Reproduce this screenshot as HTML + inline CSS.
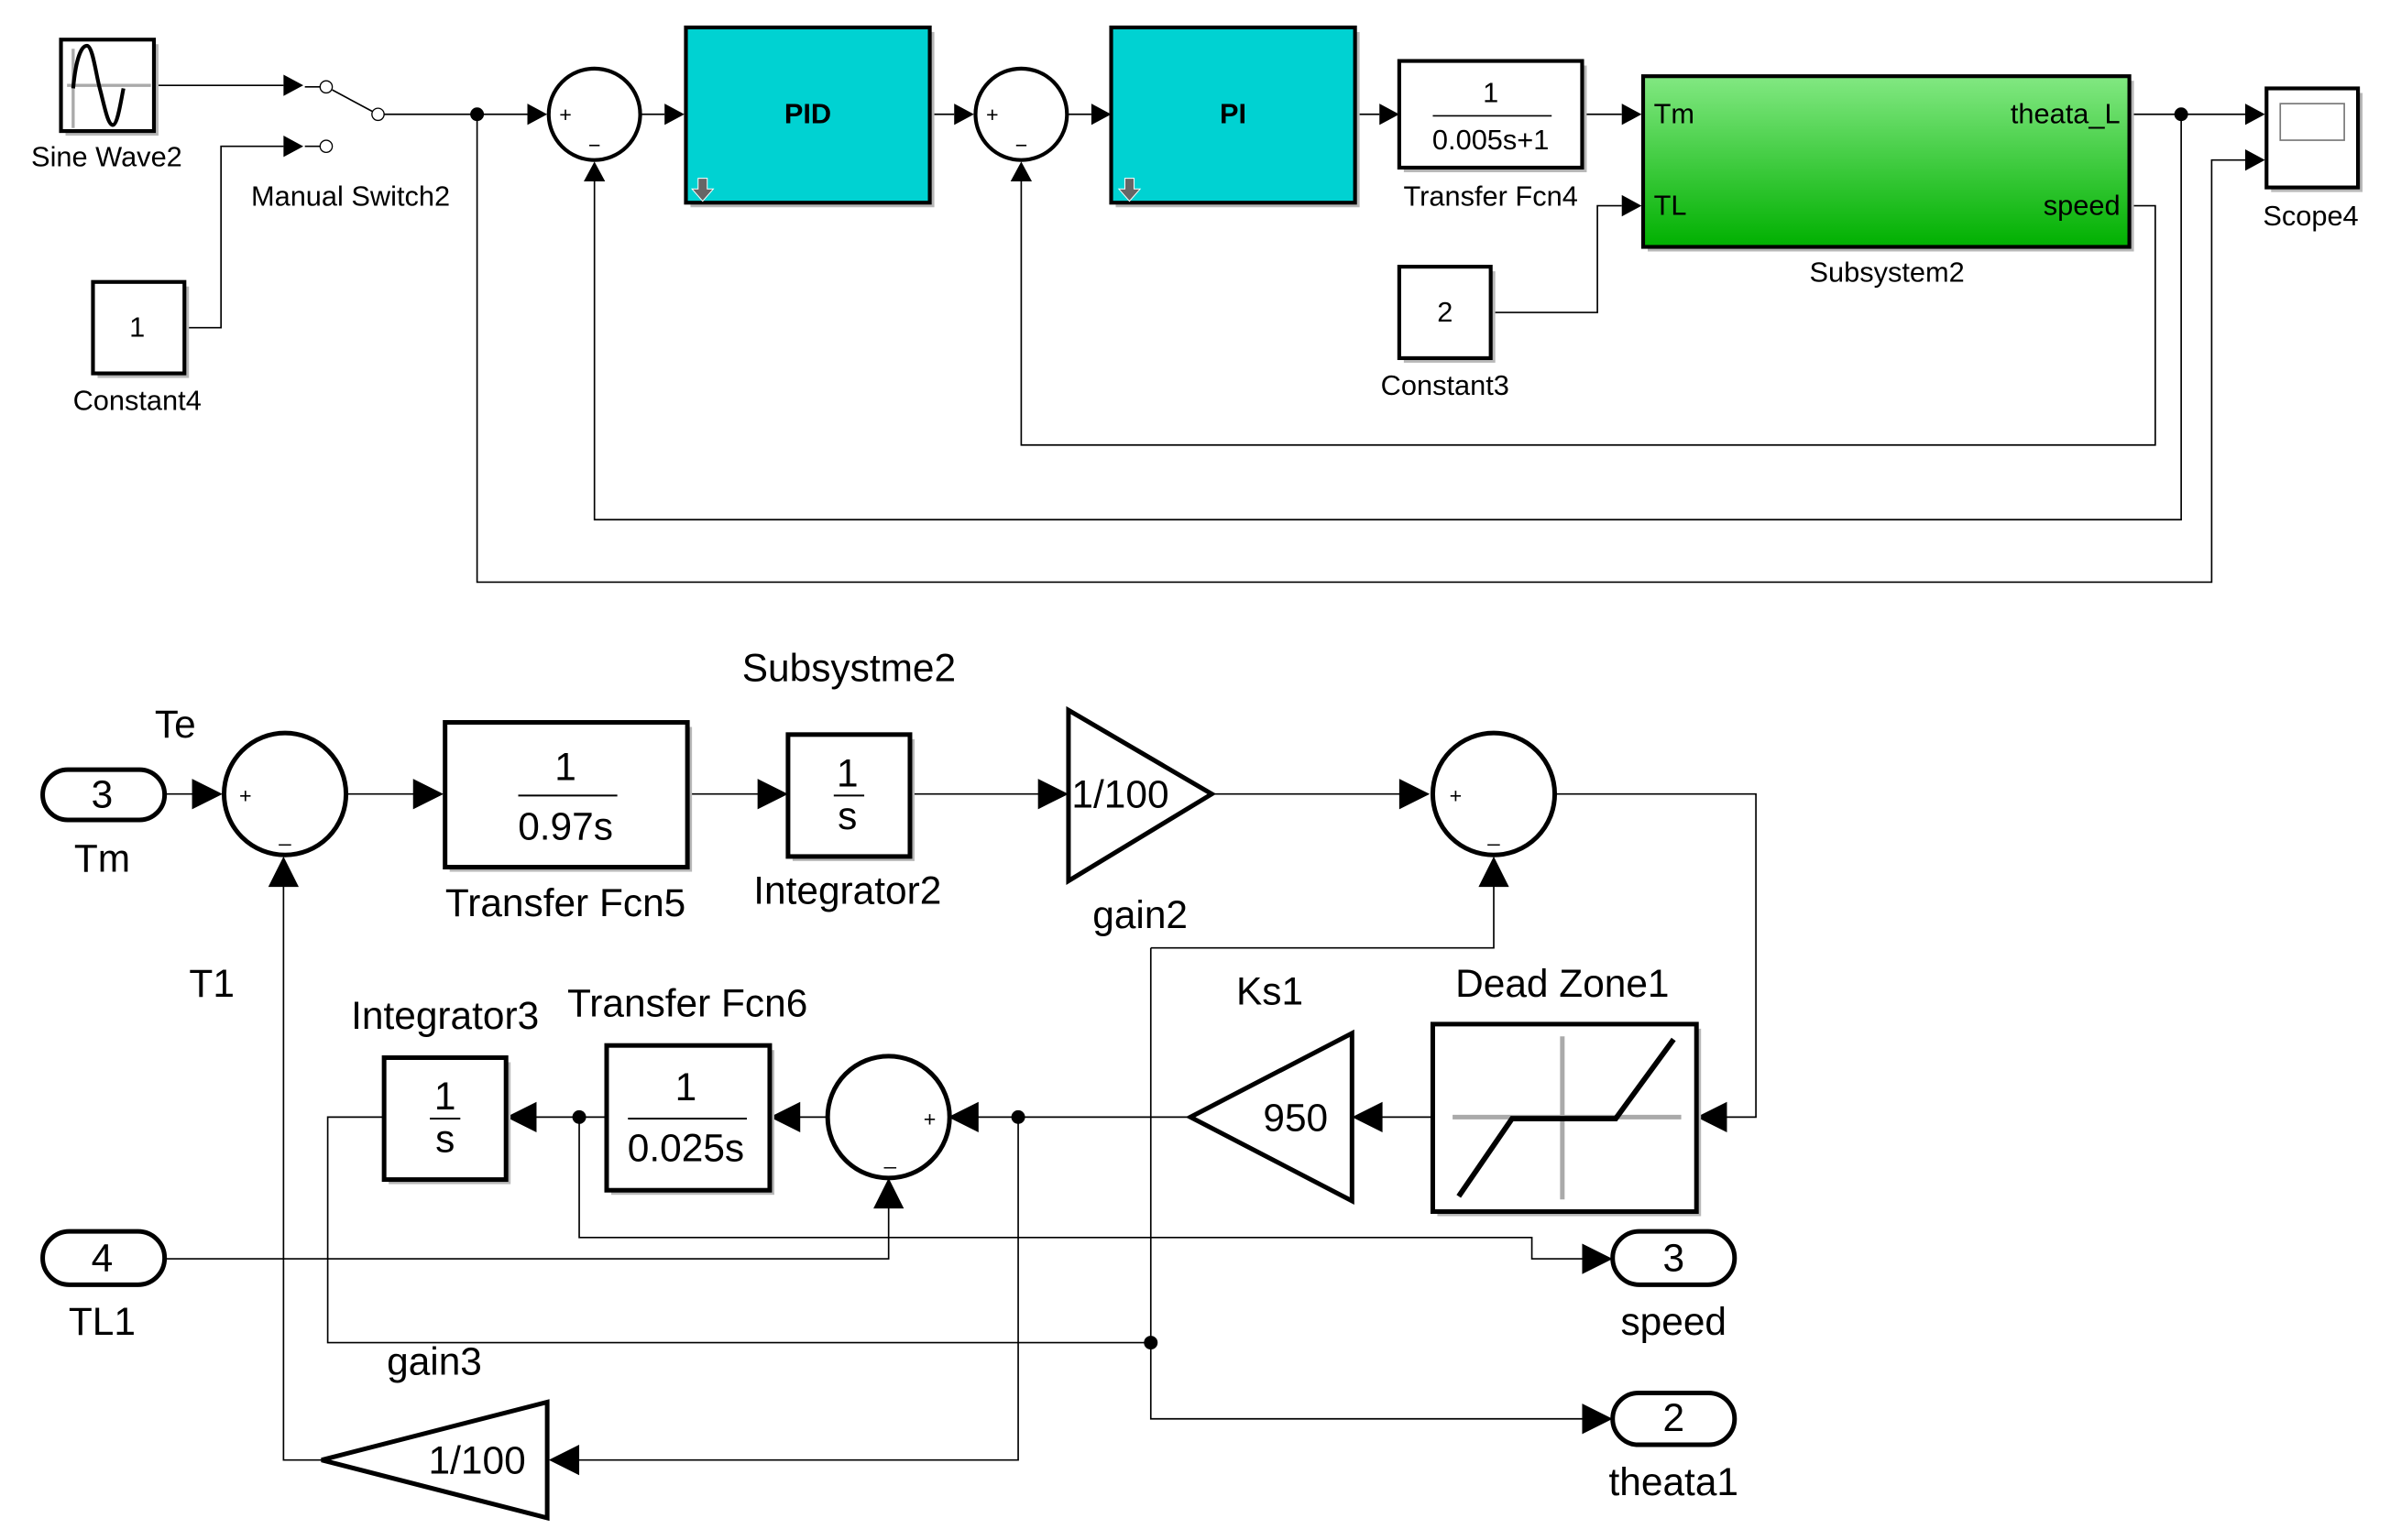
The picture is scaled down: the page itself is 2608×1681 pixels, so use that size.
<!DOCTYPE html>
<html><head><meta charset="utf-8"><style>
html,body{margin:0;padding:0;background:#fff;}
svg{display:block;}
text{font-family:"Liberation Sans",Arial,sans-serif;fill:#000;}
</style></head><body>
<svg width="2608" height="1681" viewBox="0 0 1568 1010.5" preserveAspectRatio="none" xmlns="http://www.w3.org/2000/svg">
<defs>
<linearGradient id="g" x1="0" y1="0" x2="0" y2="1"><stop offset="0" stop-color="#82e882"/><stop offset="1" stop-color="#00b000"/></linearGradient>
</defs>
<rect width="1568" height="1011" fill="#fff"/>
<g fill="none" stroke="#000" stroke-width="1">
<path d="M101 56H186"/><path d="M121 215H145V96H186"/>
<path d="M250 75H346"/><path d="M420 75H436"/><path d="M610 75H626"/><path d="M700 75H716"/><path d="M889 75H905"/>
<path d="M1038 75H1064"/><path d="M978 205H1048V135H1064"/>
<path d="M1397 75H1473"/><path d="M1397 135H1414V292H670V119"/>
<path d="M1431 75V341H390V119"/><path d="M313 75V382H1451V105H1473"/>
<path d="M200 57H210M218 59L246 74M200 96H210"/>
<path d="M108 521H132"/><path d="M227 521H277"/><path d="M451 521H503"/><path d="M597 521H687"/><path d="M795 521H924"/>
<path d="M1020 521H1152V733H1130"/><path d="M940 733H904"/><path d="M781 733H639"/>
<path d="M543 733H521"/><path d="M398 733H349"/><path d="M252 733H215V881H755"/>
<path d="M755 622H980V578"/><path d="M755 622V931H1043"/><path d="M380 733V812H1005V826H1043"/>
<path d="M108 826H583V789"/><path d="M668 733V958H376"/><path d="M211 958H186V578"/>
</g>
<g fill="#000">
<path d="M186 49L199 56L186 63Z"/><path d="M186 89L199 96L186 103Z"/>
<path d="M346 68L359 75L346 82Z"/><path d="M436 68L449 75L436 82Z"/><path d="M626 68L639 75L626 82Z"/><path d="M716 68L729 75L716 82Z"/><path d="M905 68L918 75L905 82Z"/>
<path d="M1064 68L1077 75L1064 82Z"/><path d="M1064 128L1077 135L1064 142Z"/>
<path d="M1473 68L1486 75L1473 82Z"/><path d="M1473 98L1486 105L1473 112Z"/>
<path d="M383 119L390 106L397 119Z"/><path d="M663 119L670 106L677 119Z"/>
<circle cx="313" cy="75" r="4.5"/><circle cx="1431" cy="75" r="4.5"/>
<path d="M126 511L146 521L126 531Z"/><path d="M271 511L291 521L271 531Z"/><path d="M497 511L517 521L497 531Z"/><path d="M681 511L701 521L681 531Z"/><path d="M918 511L938 521L918 531Z"/>
<path d="M1133 723L1113 733L1133 743Z"/><path d="M907 723L887 733L907 743Z"/><path d="M642 723L622 733L642 743Z"/>
<path d="M525 723L505 733L525 743Z"/><path d="M352 723L332 733L352 743Z"/><path d="M380 948L360 958L380 968Z"/>
<path d="M1038 816L1058 826L1038 836Z"/><path d="M1038 921L1058 931L1038 941Z"/>
<path d="M176 582L186 562L196 582Z"/><path d="M970 582L980 562L990 582Z"/><path d="M573 793L583 773L593 793Z"/>
<circle cx="668" cy="733" r="4.5"/><circle cx="380" cy="733" r="4.5"/><circle cx="755" cy="881" r="4.5"/>
</g>
<g fill="#fff" stroke="#000" stroke-width="0.8"><circle cx="214" cy="57" r="4"/><circle cx="214" cy="96" r="4"/><circle cx="248" cy="75" r="4"/></g>

<g fill="#b8b8b8">
<rect x="43" y="29" width="61" height="60"/><rect x="64" y="188" width="60" height="60"/>
<rect x="453" y="21" width="160" height="115"/><rect x="732" y="21" width="160" height="115"/>
<rect x="921" y="43" width="120" height="70"/><rect x="1081" y="53" width="319" height="112"/>
<rect x="921" y="178" width="60" height="60"/><rect x="1490" y="61" width="60" height="65"/>
<rect x="295" y="477" width="159" height="95"/><rect x="520" y="485" width="80" height="80"/>
<rect x="943" y="675" width="173" height="123"/><rect x="401" y="689" width="107" height="95"/><rect x="255" y="697" width="80" height="80"/>
</g>
<g stroke="#000" stroke-width="2.5">
<rect x="40" y="26" width="61" height="60" fill="#fff"/>
<rect x="61" y="185" width="60" height="60" fill="#fff"/>
<rect x="450" y="18" width="160" height="115" fill="#00d2d2"/>
<rect x="729" y="18" width="160" height="115" fill="#00d2d2"/>
<rect x="918" y="40" width="120" height="70" fill="#fff"/>
<rect x="1078" y="50" width="319" height="112" fill="url(#g)"/>
<rect x="918" y="175" width="60" height="60" fill="#fff"/>
<rect x="1487" y="58" width="60" height="65" fill="#fff"/>
<circle cx="390" cy="75" r="30" fill="#fff"/>
<circle cx="670" cy="75" r="30" fill="#fff"/>
</g>
<rect x="1496" y="68" width="42" height="24" fill="#fff" stroke="#777" stroke-width="1"/>
<path d="M44 56H99M48 32V84" stroke="#aaa" stroke-width="2" fill="none"/>
<path d="M48 56C52 20 56 26 58 30C62 40 66 80 72 82C78 84 82 72 86 60C88 52 90 40 92 34" stroke="none" fill="none"/>
<path d="M48 58C50 36 54 30 57 30C61 30 63 50 66 60C69 72 71 82 74 82C77 82 79 68 81 58" stroke="#000" stroke-width="2.5" fill="none"/>
<path d="M458 117h6v7h4l-7 8l-7-8h4z M738 117h6v7h4l-7 8l-7-8h4z" fill="#666" stroke="#fff" stroke-width="0.6"/>
<path d="M940 76H1018" stroke="#000" stroke-width="1"/>
<g font-size="18.5" text-anchor="middle">
<text x="70" y="109">Sine Wave2</text>
<text x="90" y="221">1</text>
<text x="90" y="269">Constant4</text>
<text x="230" y="135">Manual Switch2</text>
<text x="530" y="81" font-weight="bold">PID</text>
<text x="809" y="81" font-weight="bold">PI</text>
<text x="978" y="67">1</text>
<text x="978" y="98">0.005s+1</text>
<text x="978" y="135">Transfer Fcn4</text>
<text x="948" y="211">2</text>
<text x="948" y="259">Constant3</text>
<text x="1238" y="185">Subsystem2</text>
<text x="1516" y="148">Scope4</text>
<text x="1085" y="81" text-anchor="start">Tm</text>
<text x="1085" y="141" text-anchor="start">TL</text>
<text x="1391" y="81" text-anchor="end">theata_L</text>
<text x="1391" y="141" text-anchor="end">speed</text>
</g>
<g font-size="14" text-anchor="middle"><text x="371" y="80">+</text><text x="390" y="100">−</text><text x="651" y="80">+</text><text x="670" y="100">−</text></g>

<g stroke="#000" stroke-width="3" fill="#fff">
<rect x="28" y="505" width="80" height="33" rx="16.5"/>
<rect x="28" y="808" width="80" height="35" rx="17.5"/>
<rect x="1058" y="808" width="80" height="35" rx="17.5"/>
<rect x="1058" y="914" width="80" height="34" rx="17"/>
<circle cx="187" cy="521" r="40"/>
<circle cx="980" cy="521" r="40"/>
<circle cx="583" cy="733" r="40"/>
<rect x="292" y="474" width="159" height="95"/>
<rect x="517" y="482" width="80" height="80"/>
<path d="M701 466L795 521L701 578Z"/>
<rect x="940" y="672" width="173" height="123"/>
<path d="M781 733L887 678L887 788Z"/>
<rect x="398" y="686" width="107" height="95"/>
<rect x="252" y="694" width="80" height="80"/>
<path d="M211 958L359 920L359 996Z"/>
</g>
<path d="M953 733H1103M1025 680V787" stroke="#aaa" stroke-width="3" fill="none"/>
<path d="M957 785L992 734H1060L1098 682" stroke="#000" stroke-width="3.5" fill="none"/>
<g stroke="#000" stroke-width="1.2"><path d="M340 522H405"/><path d="M547 522H567"/><path d="M412 734H490"/><path d="M282 734H302"/></g>
<g font-size="25.5" text-anchor="middle">
<text x="557" y="447">Subsystme2</text>
<text x="115" y="484">Te</text>
<text x="67" y="530">3</text>
<text x="67" y="572">Tm</text>
<text x="371" y="512">1</text>
<text x="371" y="551">0.97s</text>
<text x="371" y="601">Transfer Fcn5</text>
<text x="556" y="516">1</text>
<text x="556" y="544">s</text>
<text x="556" y="593">Integrator2</text>
<text x="735" y="530">1/100</text>
<text x="748" y="609">gain2</text>
<text x="139" y="654">T1</text>
<text x="1025" y="654">Dead Zone1</text>
<text x="833" y="659">Ks1</text>
<text x="850" y="742">950</text>
<text x="451" y="667">Transfer Fcn6</text>
<text x="450" y="722">1</text>
<text x="450" y="762">0.025s</text>
<text x="292" y="675">Integrator3</text>
<text x="292" y="728">1</text>
<text x="292" y="756">s</text>
<text x="67" y="834">4</text>
<text x="67" y="876">TL1</text>
<text x="1098" y="834">3</text>
<text x="1098" y="876">speed</text>
<text x="1098" y="939">2</text>
<text x="1098" y="981">theata1</text>
<text x="285" y="902">gain3</text>
<text x="313" y="967">1/100</text>
</g>
<g font-size="14" text-anchor="middle" fill="#555">
<text x="161" y="527">+</text><text x="187" y="552">_</text>
<text x="955" y="527">+</text><text x="980" y="552">_</text>
<text x="610" y="739">+</text><text x="584" y="764">_</text>
</g>
</svg>
</body></html>
